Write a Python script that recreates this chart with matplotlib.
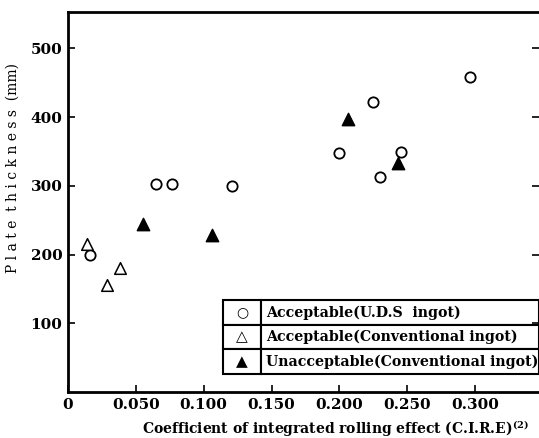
import matplotlib
matplotlib.use('Agg')
import matplotlib.pyplot as plt

# Acceptable (U.D.S ingot)
uds_x = [0.016, 0.065, 0.077, 0.121, 0.200, 0.225, 0.230, 0.245, 0.296]
uds_y = [199, 303, 303, 300, 348, 422, 313, 349, 458]
# Acceptable (Conventional ingot)
conv_ok_x = [0.014, 0.029, 0.038]
conv_ok_y = [216, 155, 180]
# Unacceptable (Conventional ingot)
conv_ng_x = [0.055, 0.106, 0.206, 0.243]
conv_ng_y = [245, 229, 397, 333]

x_ticks = [0, 0.05, 0.10, 0.15, 0.20, 0.25, 0.30]
x_tick_labels = ['0', '0.050', '0.100', '0.150', '0.200', '0.250', '0.300']
y_ticks = [100, 200, 300, 400, 500]

legend_labels = ['Acceptable(U.D.S  ingot)',
                 'Acceptable(Conventional ingot)',
                 'Unacceptable(Conventional ingot)']
legend_marks = ['\u25cb', '\u25b3', '\u25b2']

plt.rcParams['font.family'] = ['DejaVu Serif']
plt.rcParams['font.weight'] = 'bold'
plt.rcParams['mathtext.default'] = 'regular'

fig = plt.figure(figsize=(5.39, 4.38), dpi=100)
ax = fig.add_axes([0.126, 0.105, 0.874, 0.868])

ax.scatter(uds_x, uds_y, s=55, facecolors='white', edgecolors='black', linewidths=1.3, zorder=3)
ax.scatter(conv_ok_x, conv_ok_y, s=70, marker='^', facecolors='white', edgecolors='black', linewidths=1.1, zorder=3)
ax.scatter(conv_ng_x, conv_ng_y, s=80, marker='^', facecolors='black', edgecolors='black', zorder=3)

ax.set_xlim(0, 0.347)
ax.set_ylim(0, 553)
ax.set_xticks(x_ticks)
ax.set_xticklabels(x_tick_labels, fontsize=11, fontweight='bold')
ax.set_yticks(y_ticks)
ax.set_yticklabels([str(v) for v in y_ticks], fontsize=11, fontweight='bold')
ax.tick_params(direction='in', length=5, width=1.2, right=True, pad=4)
ax.spines['right'].set_visible(False)
for s in ['left', 'top', 'bottom']:
    ax.spines[s].set_linewidth(2)

ax.set_xlabel('Coefficient of integrated rolling effect (C.I.R.E)$^{(2)}$',
              fontsize=10, fontweight='bold')
ax.xaxis.set_label_coords(0.569, -0.068)
ax.set_ylabel('P l a t e  t h i c k n e s s  (mm)', fontsize=10, fontweight='normal')
ax.yaxis.set_label_coords(-0.102, 0.59)

# boxed legend table
table = ax.table(cellText=[[m, t] for m, t in zip(legend_marks, legend_labels)],
                 colWidths=[0.12, 0.88], cellLoc='left',
                 bbox=[0.329, 0.047, 0.671, 0.195])
table.auto_set_font_size(False)
for (r, c), cell in table.get_celld().items():
    cell.set_linewidth(1.5)
    cell.PAD = 0.02
    cell.get_text().set_fontsize(10.2)
    cell.get_text().set_fontweight('bold')
    if c == 0:
        cell.get_text().set_horizontalalignment('center')
        cell.get_text().set_fontsize(10 if r == 0 else 11)
        cell.get_text().set_family('DejaVu Sans')

fig.savefig('out.png', dpi=100)
